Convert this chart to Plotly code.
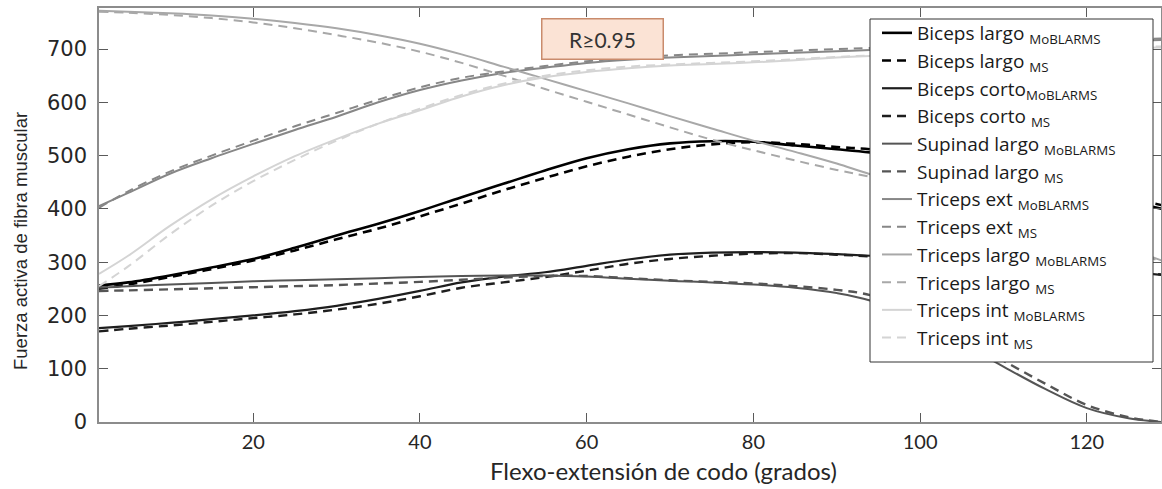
import plotly.graph_objects as go

# ---- data ----
angle = [1.5, 5, 10, 15, 20, 25, 30, 35, 40, 45, 50, 55, 60, 65, 70, 75, 80, 85, 90, 94,
         100, 105, 110, 115, 120, 125, 129]

biceps_largo_mob = [256, 262, 275, 290, 306, 327, 350, 372, 396, 422, 447, 472, 495, 512, 523, 527, 526, 519, 512, 506,
                    495, 483, 468, 450, 432, 414, 400]
biceps_largo_ms = [250, 258, 272, 287, 303, 322, 343, 363, 386, 410, 435, 458, 480, 498, 512, 521, 525, 522, 516, 512,
                   500, 488, 472, 455, 437, 420, 407]
biceps_corto_mob = [176, 180, 186, 193, 200, 208, 218, 231, 246, 262, 273, 281, 293, 305, 314, 318, 319, 318, 315, 312,
                    308, 304, 300, 295, 289, 282, 276]
biceps_corto_ms = [170, 175, 181, 188, 195, 202, 211, 222, 236, 252, 262, 272, 284, 297, 306, 312, 316, 317, 314, 311,
                   307, 303, 299, 294, 288, 282, 277]
supinad_mob = [252, 255, 258, 261, 264, 266, 268, 270, 272, 274, 275, 275, 273, 269, 265, 262, 258, 252, 242, 228,
               190, 148, 104, 62, 26, 7, 0]
supinad_ms = [246, 247, 249, 251, 253, 255, 257, 260, 263, 267, 271, 274, 274, 270, 266, 263, 260, 255, 248, 238,
              202, 160, 115, 72, 32, 9, 0]
triceps_ext_mob = [405, 430, 466, 495, 522, 548, 573, 600, 623, 641, 655, 665, 674, 680, 684, 687, 690, 693, 696, 698,
                   702, 705, 708, 711, 713, 715, 717]
triceps_ext_ms = [402, 433, 470, 500, 528, 555, 580, 605, 628, 646, 658, 668, 677, 683, 688, 691, 694, 697, 700, 702,
                  705, 708, 711, 714, 716, 718, 720]
triceps_largo_mob = [772, 770, 767, 763, 757, 749, 739, 726, 710, 690, 667, 644, 621, 598, 574, 551, 528, 507, 485, 465,
                     440, 420, 398, 375, 350, 325, 303]
triceps_largo_ms = [770, 768, 764, 758, 750, 739, 726, 712, 695, 674, 650, 625, 601, 577, 553, 530, 510, 491, 473, 460,
                    437, 417, 396, 373, 349, 324, 300]
triceps_int_mob = [278, 312, 368, 418, 461, 499, 531, 560, 585, 611, 632, 647, 657, 664, 669, 672, 675, 679, 684, 687,
                   690, 693, 695, 698, 700, 702, 703]
triceps_int_ms = [255, 292, 352, 406, 452, 492, 528, 560, 588, 614, 635, 650, 660, 667, 671, 674, 677, 681, 685, 688,
                  691, 694, 697, 699, 701, 703, 705]

x_ticks = [20, 40, 60, 80, 100, 120]
y_ticks = [0, 100, 200, 300, 400, 500, 600, 700]

series = [
    ("Biceps largo <sub>MoBLARMS</sub>", biceps_largo_mob, "#000000", 2.6, "solid"),
    ("Biceps largo <sub>MS</sub>", biceps_largo_ms, "#000000", 2.6, "dash"),
    ("Biceps corto<sub>MoBLARMS</sub>", biceps_corto_mob, "#1e1e1e", 2.2, "solid"),
    ("Biceps corto <sub>MS</sub>", biceps_corto_ms, "#1e1e1e", 2.4, "dash"),
    ("Supinad largo <sub>MoBLARMS</sub>", supinad_mob, "#555555", 2.0, "solid"),
    ("Supinad largo <sub>MS</sub>", supinad_ms, "#555555", 2.4, "dash"),
    ("Triceps ext <sub>MoBLARMS</sub>", triceps_ext_mob, "#878787", 2.0, "solid"),
    ("Triceps ext <sub>MS</sub>", triceps_ext_ms, "#878787", 2.0, "dash"),
    ("Triceps largo <sub>MoBLARMS</sub>", triceps_largo_mob, "#a8a8a8", 2.0, "solid"),
    ("Triceps largo <sub>MS</sub>", triceps_largo_ms, "#a8a8a8", 2.0, "dash"),
    ("Triceps int <sub>MoBLARMS</sub>", triceps_int_mob, "#d4d4d4", 2.0, "solid"),
    ("Triceps int <sub>MS</sub>", triceps_int_ms, "#d4d4d4", 2.0, "dash"),
]

fig = go.Figure()
for name, vals, color, width, dash in series:
    fig.add_trace(go.Scatter(
        x=angle, y=vals, name=name, mode="lines",
        line=dict(color=color, width=width, dash=("9px,6px" if dash == "dash" else "solid"), shape="spline"),
    ))

W, H = 1162, 489
ml, mr, mt, mb = 99, 1, 8, 67
pw, ph = W - ml - mr, H - mt - mb

def px2paper_x(px):
    return (px - ml) / pw

def py2paper_y(py):
    return (H - mb - py) / ph

axis_common = dict(
    showline=True, linecolor="#8c8c8c", linewidth=1.5, mirror="ticks",
    ticks="inside", ticklen=9, tickcolor="#5a5a5a", tickwidth=1,
    showgrid=False, zeroline=False, automargin=False,
)

fig.update_layout(
    width=W, height=H,
    margin=dict(l=ml, r=mr, t=mt, b=mb, autoexpand=False),
    paper_bgcolor="white", plot_bgcolor="white",
    showlegend=True,
    legend=dict(
        x=px2paper_x(877), y=py2paper_y(14), xanchor="left", yanchor="top",
        bgcolor="rgba(0,0,0,0)", borderwidth=0,
        font=dict(family="Open Sans, Lato, sans-serif", size=19, color="#1a1a1a"),
        tracegroupgap=0, itemwidth=30,
    ),
    shapes=[
        dict(type="rect", xref="paper", yref="paper",
             x0=px2paper_x(870), x1=px2paper_x(1153), y0=py2paper_y(19), y1=py2paper_y(362),
             fillcolor="white", line=dict(color="#333333", width=1), layer="above"),
    ],
    xaxis=dict(range=[1.5, 128.9], tickvals=x_ticks, ticklabelstandoff=1,
               tickfont=dict(family="Lato, sans-serif", size=20, color="#262626"),
               **axis_common),
    yaxis=dict(range=[0, 777], tickvals=y_ticks, ticklabelstandoff=6,
               tickfont=dict(family="DejaVu Sans, Verdana, sans-serif", size=21, color="#262626"),
               **axis_common),
    annotations=[
        dict(text="Flexo-extensión de codo (grados)", xref="paper", yref="paper",
             x=px2paper_x(663), y=py2paper_y(470), xanchor="center", yanchor="middle",
             showarrow=False, font=dict(family="Lato, Open Sans, sans-serif", size=24, color="#262626")),
        dict(text="Fuerza activa de fibra muscular", xref="paper", yref="paper",
             x=px2paper_x(20), y=py2paper_y(241), xanchor="center", yanchor="middle", textangle=-90,
             showarrow=False, font=dict(family="Liberation Sans, Arial, sans-serif", size=18.5, color="#262626")),
        dict(text="R≥0.95", xref="paper", yref="paper",
             x=px2paper_x(602), y=py2paper_y(38.5), xanchor="center", yanchor="middle",
             showarrow=False, width=116, height=35,
             bgcolor="#fbe3d5", bordercolor="#c98b6c", borderwidth=1.5, borderpad=2,
             font=dict(family="Lato, Open Sans, sans-serif", size=21, color="#333333")),
    ],
)

fig.write_html("out.html", config={"displayModeBar": False},
               post_script="document.body.style.margin='0px';")
